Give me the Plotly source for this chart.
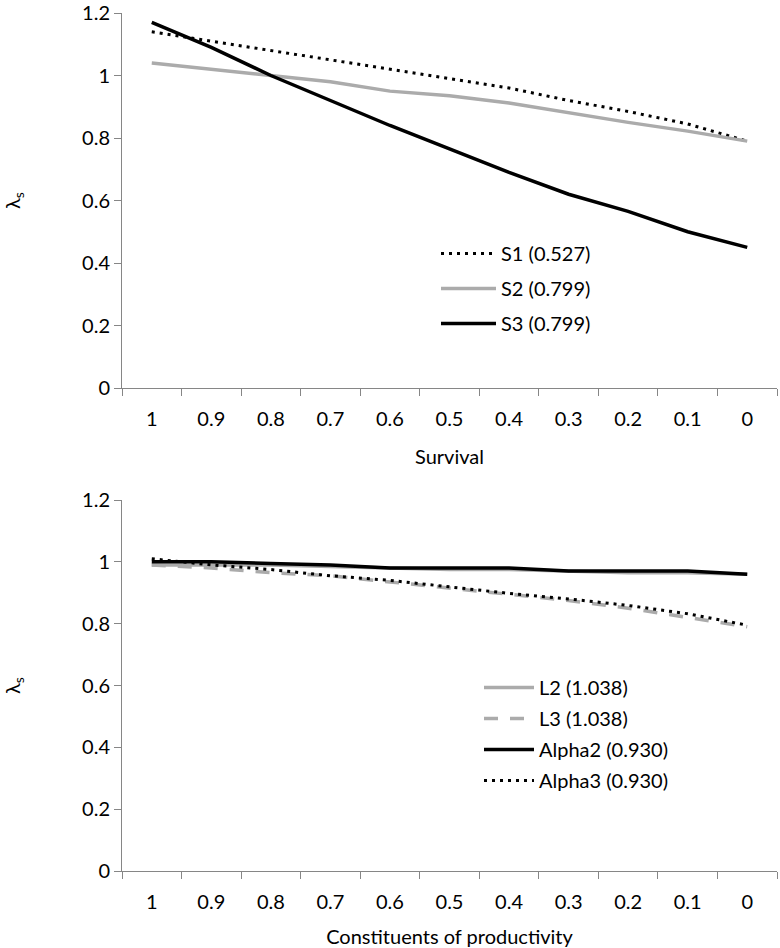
import plotly.graph_objects as go
from plotly.subplots import make_subplots

categories = ["1", "0.9", "0.8", "0.7", "0.6", "0.5", "0.4", "0.3", "0.2", "0.1", "0"]

s1 = [1.14, 1.11, 1.08, 1.05, 1.02, 0.99, 0.96, 0.92, 0.885, 0.845, 0.79]
s2 = [1.04, 1.02, 1.00, 0.98, 0.95, 0.935, 0.912, 0.88, 0.85, 0.822, 0.79]
s3 = [1.17, 1.09, 1.00, 0.92, 0.84, 0.765, 0.69, 0.62, 0.565, 0.50, 0.45]

l2 = [0.99, 0.99, 0.99, 0.985, 0.98, 0.975, 0.975, 0.97, 0.965, 0.965, 0.96]
l3 = [0.99, 0.98, 0.965, 0.955, 0.935, 0.915, 0.895, 0.875, 0.85, 0.82, 0.79]
alpha2 = [1.00, 1.00, 0.995, 0.99, 0.98, 0.98, 0.98, 0.97, 0.97, 0.97, 0.96]
alpha3 = [1.01, 0.99, 0.975, 0.955, 0.94, 0.918, 0.898, 0.88, 0.859, 0.832, 0.795]

FONT = "Lato, 'Open Sans', sans-serif"
GREY = "#ababab"
AXC = "#868686"
DOT = "3px,5px"

fig = make_subplots(rows=2, cols=1, vertical_spacing=0.13)

fig.add_trace(go.Scatter(x=categories, y=s1, mode="lines", name="S1 (0.527)", legendgroup="a",
                         line=dict(color="black", width=3, dash=DOT), legend="legend"), row=1, col=1)
fig.add_trace(go.Scatter(x=categories, y=s2, mode="lines", name="S2 (0.799)", legendgroup="b",
                         line=dict(color=GREY, width=3.5), legend="legend"), row=1, col=1)
fig.add_trace(go.Scatter(x=categories, y=s3, mode="lines", name="S3 (0.799)", legendgroup="c",
                         line=dict(color="black", width=3.5), legend="legend"), row=1, col=1)

fig.add_trace(go.Scatter(x=categories, y=l2, mode="lines", name="L2 (1.038)", legendgroup="d",
                         line=dict(color=GREY, width=3.5), legend="legend2"), row=2, col=1)
fig.add_trace(go.Scatter(x=categories, y=l3, mode="lines", name="L3 (1.038)", legendgroup="e",
                         line=dict(color=GREY, width=3.5, dash="14px,12px"), legend="legend2"), row=2, col=1)
fig.add_trace(go.Scatter(x=categories, y=alpha2, mode="lines", name="Alpha2 (0.930)", legendgroup="f",
                         line=dict(color="black", width=3.5), legend="legend2"), row=2, col=1)
fig.add_trace(go.Scatter(x=categories, y=alpha3, mode="lines", name="Alpha3 (0.930)", legendgroup="g",
                         line=dict(color="black", width=3, dash=DOT), legend="legend2"), row=2, col=1)

W, H = 780, 948
t, b = 13, 77
ph = H - t - b
def fy(px):
    return (H - b - px) / ph
def fx(px):
    return (px - 122) / (W - 122 - 3)

TF = dict(size=20, color="black", family=FONT)
xcommon = dict(type="category", range=[-0.5, 10.5], tickson="boundaries",
               showline=True, linecolor=AXC, linewidth=1, ticks="outside",
               tickcolor=AXC, ticklen=7, showgrid=False, zeroline=False,
               tickfont=TF, automargin=False, ticklabelstandoff=13,
               ticklabeloverflow="allow")
ycommon = dict(range=[0, 1.2], dtick=0.2, showline=True, linecolor=AXC, linewidth=1,
               ticks="outside", tickcolor=AXC, ticklen=7, showgrid=False, zeroline=False,
               tickfont=TF, automargin=False, ticklabeloverflow="allow",
               title=dict(text="λ<sub>s</sub>", font=dict(size=20, color="black", family=FONT), standoff=60))

fig.update_xaxes(**xcommon)
fig.update_yaxes(**ycommon)
fig.update_xaxes(title=dict(text="Survival", font=dict(size=20, color="black", family=FONT), standoff=20), row=1, col=1)
fig.update_xaxes(title=dict(text="Constituents of productivity", font=dict(size=20, color="black", family=FONT), standoff=17), row=2, col=1)

fig.update_layout(
    width=W, height=H,
    margin=dict(l=122, r=3, t=t, b=b),
    plot_bgcolor="white", paper_bgcolor="white",
    font=dict(family=FONT, color="black"),
    xaxis=dict(domain=[0, 1]),
    yaxis=dict(domain=[fy(388), 1.0]),
    yaxis2=dict(domain=[0, fy(500)]),
    legend=dict(x=fx(436), y=fy(234), xanchor="left", yanchor="top",
                font=dict(size=20, family=FONT, color="black"), itemwidth=55,
                bgcolor="rgba(0,0,0,0)", tracegroupgap=6),
    legend2=dict(x=fx(479), y=fy(668), xanchor="left", yanchor="top",
                 font=dict(size=20, family=FONT, color="black"), itemwidth=50,
                 bgcolor="rgba(0,0,0,0)", tracegroupgap=2),
    showlegend=True,
)

fig.write_html("out.html", config={"displayModeBar": False},
               post_script="document.body.style.margin='0';document.body.style.overflow='hidden';")
